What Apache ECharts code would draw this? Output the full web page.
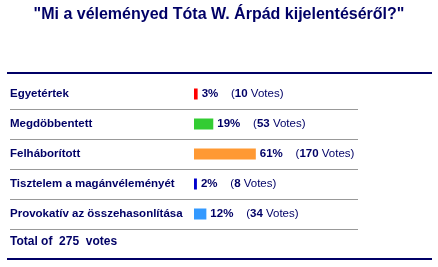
<!DOCTYPE html>
<html>
<head>
<meta charset="utf-8">
<script src="https://cdn.jsdelivr.net/npm/echarts@6/dist/echarts.min.js"></script>
<style>
  html, body { margin: 0; padding: 0; background: #fff; }
  #poll { width: 438px; height: 267px; }
</style>
</head>
<body>
<div id="poll"></div>
<script>
// szavazás adatai
var answers = ["Egyetértek", "Megdöbbentett", "Felháborított", "Tisztelem a magánvéleményét", "Provokatív az összehasonlítása"];
var votes = [10, 53, 170, 8, 34];
var percents = [3, 19, 61, 2, 12];
var barColors = ["#ff0000", "#33cc33", "#ff9933", "#0000cc", "#3399ff"];
var totalVotes = 275;

var navy = "#000066";
var font = "Liberation Sans, Arial, sans-serif";

var myChart = echarts.init(document.getElementById("poll"));

// 100px = összes szavazat, a sáv a 194. pixelnél indul
var pxPerVote = 100 / totalVotes;
var option = {
  animation: false,
  title: [
    {
      text: '"Mi a véleményed Tóta W. Árpád kijelentéséről?"',
      left: "center",
      top: 7,
      padding: 0,
      textStyle: { color: navy, fontFamily: font, fontSize: 16, fontWeight: "bold" }
    },
    {
      text: "Total of  " + totalVotes + "  votes",
      left: 10,
      top: 236,
      padding: 0,
      textStyle: { color: navy, fontFamily: font, fontSize: 12, fontWeight: "bold" }
    }
  ],
  grid: { left: 10, top: 79, width: 348, height: 150 },
  xAxis: {
    type: "value",
    min: -184 / pxPerVote,
    max: 164 / pxPerVote,
    show: false
  },
  yAxis: {
    type: "category",
    data: answers,
    inverse: true,
    axisLine: { show: false, onZero: false },
    axisTick: { show: false },
    axisLabel: {
      align: "left",
      margin: 0,
      color: navy,
      fontFamily: font,
      fontSize: 11.5,
      fontWeight: "bold"
    },
    splitLine: {
      show: true,
      lineStyle: { color: ["rgba(0,0,0,0)", "#999", "#999", "#999", "#999", "#999"], width: 1 }
    }
  },
  series: [
    {
      type: "bar",
      barWidth: 11,
      data: votes.map(function (v, i) {
        return { value: v, itemStyle: { color: barColors[i] } };
      }),
      label: {
        show: true,
        position: "right",
        distance: 4,
        formatter: function (p) {
          return "{b|" + percents[p.dataIndex] + "%}    ({b|" + votes[p.dataIndex] + "} Votes)";
        },
        color: navy,
        fontFamily: font,
        fontSize: 11.5,
        rich: {
          b: { color: navy, fontFamily: font, fontSize: 11.5, fontWeight: "bold" }
        }
      }
    }
  ],
  graphic: [
    { type: "line", shape: { x1: 7, y1: 73, x2: 432, y2: 73 }, style: { stroke: navy, lineWidth: 2 } },
    { type: "line", shape: { x1: 7, y1: 259, x2: 432, y2: 259 }, style: { stroke: navy, lineWidth: 2 } }
  ]
};
myChart.setOption(option);
</script>
</body>
</html>
